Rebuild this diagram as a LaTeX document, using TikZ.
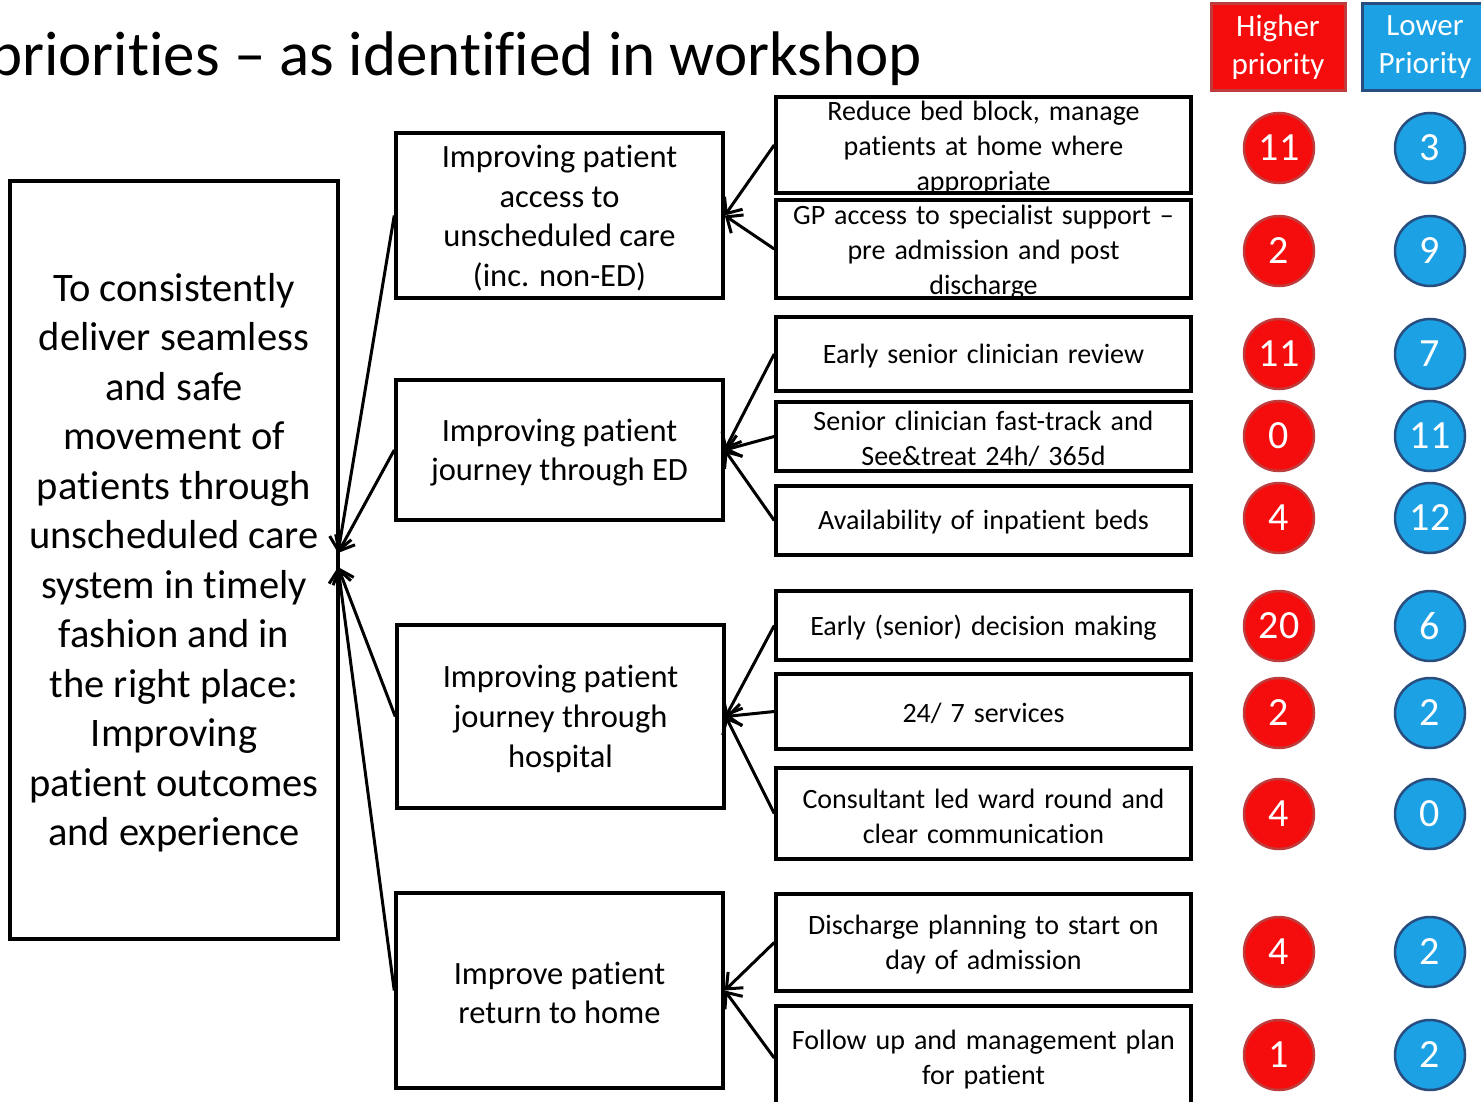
\documentclass[tikz,border=0pt]{standalone}
\usepackage{fontspec}
\setmainfont{Carlito}[Ligatures=NoCommon]
\usetikzlibrary{arrows.meta}
\definecolor{hifill}{RGB}{245,12,12}
\definecolor{hiline}{RGB}{190,60,60}
\definecolor{lofill}{RGB}{28,162,228}
\definecolor{loline}{RGB}{40,78,128}
\newcommand\fsz[2]{\fontsize{#1}{#2}\selectfont}
\newcommand\widespaces{\spaceskip=0.32em plus 0.1em\relax}
\begin{document}
\begin{tikzpicture}[x=1pt,y=-1pt,
  box/.style={draw, line width=3.5pt, inner sep=0pt},
  goal/.style={box, minimum width=328, minimum height=758},
  theme/.style={box, minimum width=327},
  action/.style={box, minimum width=415},
  bigtxt/.style={align=center, font=\fsz{40.5}{49.5}, inner sep=0pt},
  midtxt/.style={align=center, font=\fsz{32.5}{39.6}, inner sep=0pt},
  smalltxt/.style={align=center, font=\fsz{28}{35}, inner sep=0pt,
    execute at begin node=\widespaces},
  arr/.style={line width=3pt, -{Straight Barb[length=13pt,width=22pt,line width=3pt]}},
  hdr/.style={draw, line width=3pt, minimum width=#1, minimum height=87, align=center,
    text=white, font=\fsz{31}{38}, inner sep=0pt},
  hi/.style={circle, draw=hiline, fill=hifill, line width=2.5pt, minimum size=70,
    inner sep=0pt, text=white, font=\fsz{40}{44}},
  lo/.style={circle, draw=loline, fill=lofill, line width=2.5pt, minimum size=70,
    inner sep=0pt, text=white, font=\fsz{40}{44}}]
\useasboundingbox (0,0) rectangle (1481,1102);

% title
\node[anchor=base east, inner sep=0pt, font=\fsz{63}{70}] (title) at (922,76)
  {priorities -- as identified in workshop};

% column headers
\node[hdr=134, fill=hifill, draw=hiline] (hihdr) at (1278,47.5) {Higher\\priority};
\node[hdr=126, fill=lofill, draw=loline] (lohdr) at (1425,47.5) {Lower\\Priority};

% overall goal
\node[goal] (goal) at (174,560) {};
\node[bigtxt] (goaltxt) at (174,562.5) {To consistently\\deliver seamless\\and safe\\movement of\\patients through\\unscheduled care\\system in timely\\fashion and in\\the right place:\\Improving\\patient outcomes\\and experience};

% themes
\node[theme, minimum height=165] (m1) at (559.5,215.5) {};
\node[midtxt] (m1txt) at (559.5,218) {Improving patient\\access to\\unscheduled care\\(inc. non-ED)};
\node[theme, minimum height=140] (m2) at (559.5,450) {};
\node[midtxt] (m2txt) at (559.5,452.5) {Improving patient\\journey through ED};
\node[theme, minimum height=183] (m3) at (560.5,716.5) {};
\node[midtxt] (m3txt) at (560.5,719) {Improving patient\\journey through\\hospital};
\node[theme, minimum height=195] (m4) at (559.5,990.5) {};
\node[midtxt] (m4txt) at (559.5,993) {Improve patient\\return to home};

% actions
\node[action, minimum height=96] (a) at (983.5,145) {};
\node[smalltxt] (atxt) at (983.5,148.5) {Reduce bed block, manage\\patients at home where\\appropriate};
\node[action, minimum height=98] (b) at (983.5,249) {};
\node[smalltxt] (btxt) at (983.5,252.5) {GP access to specialist support --\\pre admission and post\\discharge};
\node[action, minimum height=74] (c) at (983.5,354) {};
\node[smalltxt] (ctxt) at (983.5,356) {Early senior clinician review};
\node[action, minimum height=69] (d) at (983.5,436.5) {};
\node[smalltxt] (dtxt) at (983.5,438.5) {Senior clinician fast-track and\\See\&treat 24h/ 365d};
\node[action, minimum height=69] (e) at (983.5,520.5) {};
\node[smalltxt] (etxt) at (983.5,522.5) {Availability of inpatient beds};
\node[action, minimum height=69] (f) at (983.5,625.5) {};
\node[smalltxt] (ftxt) at (983.5,627.5) {Early (senior) decision making};
\node[action, minimum height=75] (g) at (983.5,711.5) {};
\node[smalltxt] (gtxt) at (983.5,713.5) {24/ 7 services};
\node[action, minimum height=91] (h) at (983.5,813.5) {};
\node[smalltxt] (htxt) at (983.5,816) {Consultant led ward round and\\clear communication};
\node[action, minimum height=97] (i) at (983.5,942.5) {};
\node[smalltxt] (itxt) at (983.5,945) {Discharge planning to start on\\day of admission};
\node[action, minimum height=104] (j) at (983.5,1058) {};
\node[smalltxt] (jtxt) at (983.5,1059.5) {Follow up and management plan\\for patient};

% arrows: actions -> themes
\draw[arr] (a.west) -- (m1.east);
\draw[arr] (b.west) -- (m1.east);
\draw[arr] (c.west) -- (m2.east);
\draw[arr] (d.west) -- (m2.east);
\draw[arr] (e.west) -- (m2.east);
\draw[arr] (f.west) -- (m3.east);
\draw[arr] (g.west) -- (m3.east);
\draw[arr] (h.west) -- (m3.east);
\draw[arr] (i.west) -- (m4.east);
\draw[arr] (j.west) -- (m4.east);

% arrows: themes -> goal
\coordinate (tipup) at (338,553);
\coordinate (tipdn) at (338,567);
\draw[arr] (m1.west) -- (tipup);
\draw[arr] (m2.west) -- (tipup);
\draw[arr] (m3.west) -- (tipdn);
\draw[arr] (m4.west) -- (tipdn);

% priority votes
\node[hi] (r1) at (1279,148) {11};   \node[lo] (l1) at (1430,148) {3};
\node[hi] (r2) at (1279,251) {2};    \node[lo] (l2) at (1430,251) {9};
\node[hi] (r3) at (1279,354) {11};   \node[lo] (l3) at (1430,354) {7};
\node[hi] (r4) at (1279,436) {0};    \node[lo] (l4) at (1430,436) {11};
\node[hi] (r5) at (1279,518) {4};    \node[lo] (l5) at (1430,518) {12};
\node[hi] (r6) at (1279,626) {20};   \node[lo] (l6) at (1430,626) {6};
\node[hi] (r7) at (1279,713) {2};    \node[lo] (l7) at (1430,713) {2};
\node[hi] (r8) at (1279,814) {4};    \node[lo] (l8) at (1430,814) {0};
\node[hi] (r9) at (1279,952) {4};    \node[lo] (l9) at (1430,952) {2};
\node[hi] (r10) at (1279,1055) {1};  \node[lo] (l10) at (1430,1055) {2};
\end{tikzpicture}
\end{document}
